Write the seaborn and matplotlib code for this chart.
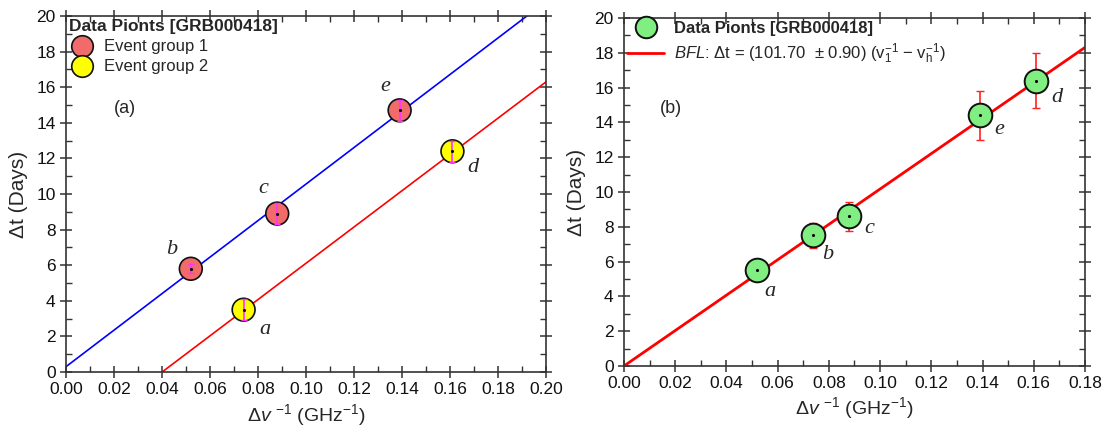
import numpy as np
import pandas as pd
import matplotlib
matplotlib.use("Agg")
import matplotlib.pyplot as plt
from matplotlib.ticker import MultipleLocator
from matplotlib.lines import Line2D
import seaborn as sns

# ---- data ----
# panel (a): two event groups
g1_names = ["b", "c", "e"]
g1_x = [0.052, 0.088, 0.139]
g1_y = [5.8, 8.9, 14.7]
g1_err = [0.25, 0.6, 0.6]

g2_names = ["a", "d"]
g2_x = [0.074, 0.161]
g2_y = [3.5, 12.4]
g2_err = [0.6, 0.6]

# fitted lines (slope, intercept) for panel (a)
fit1_slope, fit1_icpt = 102.6, 0.3
fit2_slope, fit2_icpt = 101.9, -4.08

# panel (b): all points, best fit line through origin
b_names = ["a", "b", "c", "e", "d"]
b_x = [0.052, 0.074, 0.088, 0.139, 0.161]
b_y = [5.5, 7.5, 8.6, 14.4, 16.4]
b_err = [0.5, 0.7, 0.85, 1.4, 1.6]
bfl_slope = 101.70

sns.set_style("ticks")
plt.rcParams["font.family"] = ["Liberation Sans", "DejaVu Sans"]
plt.rcParams["mathtext.fontset"] = "custom"
plt.rcParams["mathtext.rm"] = "Liberation Sans"
plt.rcParams["mathtext.it"] = "Liberation Sans:italic"
plt.rcParams["axes.linewidth"] = 1.2

fig = plt.figure(figsize=(11.13, 4.28), dpi=100)
ax1 = fig.add_axes([0.0593, 0.1308, 0.4313, 0.8318])
ax2 = fig.add_axes([0.5606, 0.1449, 0.4142, 0.8131])

xlabel = r"Δ$\it{v}$ $^{-1}$ (GHz$^{-1}$)"
letter_font = dict(family="Liberation Serif", style="italic", fontsize=16)


def style_axes(ax, xmax):
    ax.set_xlim(0, xmax)
    ax.set_ylim(0, 20)
    ax.xaxis.set_major_locator(MultipleLocator(0.02))
    ax.xaxis.set_minor_locator(MultipleLocator(0.01))
    ax.yaxis.set_major_locator(MultipleLocator(2))
    ax.yaxis.set_minor_locator(MultipleLocator(1))
    ax.xaxis.set_major_formatter(matplotlib.ticker.FormatStrFormatter("%.2f"))
    ax.tick_params(which="major", direction="inout", length=8, width=1.1,
                   top=True, right=True, labelsize=12.5, color="#333333",
                   labelcolor="#111111")
    ax.tick_params(which="minor", direction="in", length=4, width=1.0,
                   top=True, right=True, color="#333333")
    for s in ax.spines.values():
        s.set_visible(True)
        s.set_color("#333333")
    ax.set_xlabel(xlabel, fontsize=14, labelpad=3)
    ax.set_ylabel("Δt (Days)", fontsize=15, labelpad=6)


# ---- panel (a) ----
style_axes(ax1, 0.20)
xs = np.array([0.0, 0.20])
ax1.plot(xs, fit1_slope * xs + fit1_icpt, color="#0000FF", lw=1.2, zorder=2)
xs2 = np.array([-fit2_icpt / fit2_slope, 0.20])
ax1.plot(xs2, fit2_slope * xs2 + fit2_icpt, color="#FF0000", lw=1.2, zorder=2)

df1 = pd.DataFrame({"x": g1_x, "y": g1_y, "grp": "Event group 1"})
df2 = pd.DataFrame({"x": g2_x, "y": g2_y, "grp": "Event group 2"})
dfa = pd.concat([df1, df2])
sns.scatterplot(data=dfa, x="x", y="y", hue="grp",
                palette={"Event group 1": "#F26B6B", "Event group 2": "#FFFF00"},
                s=270, edgecolor="#111111", linewidth=1.2, legend=False, ax=ax1, zorder=3)
ax1.errorbar(g1_x, g1_y, yerr=g1_err, fmt="none", ecolor="#FF33FF", elinewidth=1.2,
             capsize=2, zorder=4)
ax1.errorbar(g2_x, g2_y, yerr=g2_err, fmt="none", ecolor="#FF33FF", elinewidth=1.2,
             capsize=2, zorder=4)
ax1.scatter(dfa["x"], dfa["y"], s=1.5, color="black", zorder=5)

offs_a = {"b": (-14, 14), "c": (-10, 18), "e": (-10, 17), "d": (15, -12), "a": (15, -14)}
for n, x, y in zip(g1_names + g2_names, g1_x + g2_x, g1_y + g2_y):
    ax1.annotate(n, (x, y), xytext=offs_a[n], textcoords="offset points",
                 ha="center", va="center", **letter_font)
ax1.text(0.02, 14.8, "(a)", fontsize=13, ha="left", va="center")

h1 = [Line2D([], [], ls="none", marker="o", markersize=15.5, markerfacecolor=c,
             markeredgecolor="#111111", markeredgewidth=1.2) for c in ["#F26B6B", "#FFFF00"]]
leg1 = ax1.legend(h1, ["Event group 1", "Event group 2"], loc="upper left",
                  title="Data Pionts [GRB000418]", frameon=False, fontsize=12,
                  title_fontproperties={"weight": "bold", "size": 12.5},
                  borderaxespad=0.1, borderpad=0.1, handletextpad=0.6,
                  labelspacing=0.3, handlelength=1.5, alignment="left")

# ---- panel (b) ----
style_axes(ax2, 0.18)
xb = np.array([0.0, 0.18])
sns.lineplot(x=xb, y=bfl_slope * xb, color="#FF0000", lw=2, ax=ax2, zorder=2)
ax2.errorbar(b_x, b_y, yerr=b_err, fmt="none", ecolor="#FF2020", elinewidth=1.2,
             capsize=3, zorder=2)
sns.scatterplot(x=b_x, y=b_y, s=290, color="#80EE80", edgecolor="#111111",
                linewidth=1.4, ax=ax2, zorder=3, legend=False)
ax2.scatter(b_x, b_y, s=1.5, color="black", zorder=5)

offs_b = {"a": (9, -15), "b": (10, -14), "c": (14, -9), "e": (14, -10), "d": (15, -12)}
for n, x, y in zip(b_names, b_x, b_y):
    ax2.annotate(n, (x, y), xytext=offs_b[n], textcoords="offset points",
                 ha="center", va="center", **letter_font)
ax2.text(0.014, 14.8, "(b)", fontsize=13, ha="left", va="center")

h2 = [Line2D([], [], ls="none", marker="o", markersize=15.5, markerfacecolor="#80EE80",
             markeredgecolor="#111111", markeredgewidth=1.4),
      Line2D([], [], color="#FF0000", lw=2)]
bfl_label = (r"$\it{BFL}$: Δt = (101.70  ± 0.90) "
             r"(v$_\mathregular{1}^{-1}$ − v$_\mathregular{h}^{-1}$)")
leg2 = ax2.legend(h2, ["Data Pionts [GRB000418]", bfl_label], loc="upper left",
                  frameon=False, fontsize=12, borderaxespad=0.1, borderpad=0.1,
                  handletextpad=0.6, labelspacing=0.3, handlelength=2.2)
leg2.get_texts()[0].set_fontweight("bold")

fig.savefig("out.png", dpi=100)
